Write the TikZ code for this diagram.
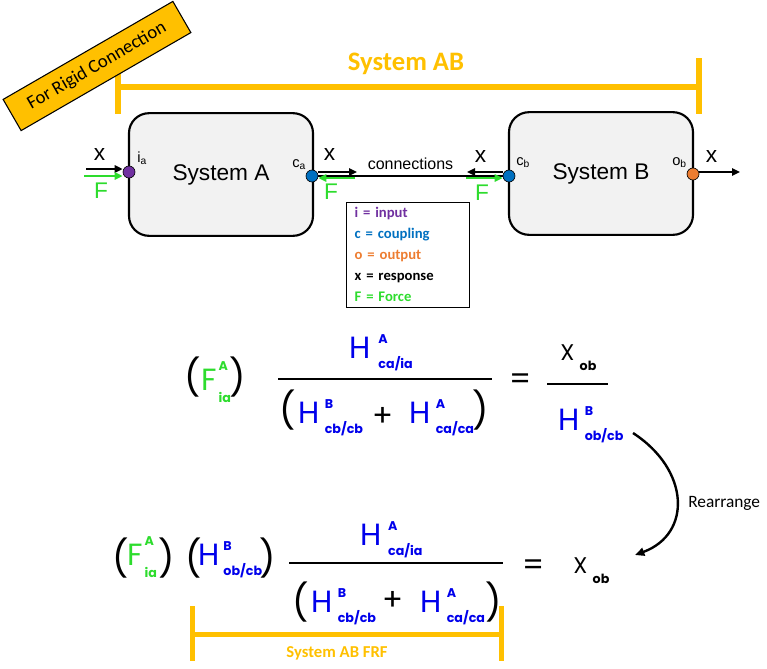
\documentclass[tikz,border=0pt]{standalone}
\usepackage{fontspec}
\setmainfont{Liberation Sans}
\newfontfamily\calib{Carlito}
\newfontfamily\geo{Poppins}
\usetikzlibrary{arrows.meta,positioning,calc}

\definecolor{frfyellow}{HTML}{FFC000}
\definecolor{inpurple}{HTML}{7030A0}
\definecolor{cpblue}{HTML}{0070C0}
\definecolor{outorange}{HTML}{ED7D31}
\definecolor{forcegreen}{RGB}{45,220,45}
\definecolor{eqblue}{RGB}{0,0,235}
\definecolor{boxgray}{HTML}{F2F2F2}

\newcommand{\supsub}{\geo\bfseries\fontsize{9.5}{9.5}\selectfont}
\newcommand{\frfterm}[4][4pt]{#2\hspace{#1}\rlap{\raisebox{11pt}{\supsub #3}}\raisebox{-7.5pt}{\supsub #4}}

\begin{document}
\begin{tikzpicture}[x=0.75pt,y=-0.75pt,
	system/.style={rectangle,rounded corners=15pt,draw,line width=1.6pt,fill=boxgray,
		minimum width=138pt,minimum height=92pt,font=\fontsize{17}{17}\selectfont},
	port/.style={circle,draw,line width=0.5pt,inner sep=0pt,minimum size=9pt},
	portlabel/.style={inner sep=0pt,anchor=base west,font=\fontsize{11}{11}\selectfont},
	xlabel/.style={inner sep=0pt,anchor=base,font=\fontsize{17}{17}\selectfont},
	flabel/.style={xlabel,text=forcegreen},
	resp/.style={-{Triangle[length=6pt,width=5.5pt]},line width=1.8pt},
	force/.style={resp,forcegreen},
	conn/.style={line width=1.5pt},
	frfbar/.style={frfyellow,line width=4.5pt},
	eqterm/.style={inner sep=0pt,anchor=base west,font=\geo\fontsize{23}{23}\selectfont},
	paren/.style={inner sep=0pt,font=\geo\fontsize{27}{27}\selectfont},
	fracbar/.style={line width=1.6pt},
	rearr/.style={-{Triangle[length=7pt,width=6pt]},line width=1.8pt}
	]
\useasboundingbox (0,0) rectangle (767,668);

% system AB bracket and rigid connection tag
\draw[frfbar] (118,58) -- (118,114) (118,87) -- (699,87) (699,58) -- (699,114);
\node[text=frfyellow,font=\calib\bfseries\fontsize{20}{20}\selectfont] (sab) at (406,64) {System AB};
\node[draw,line width=0.8pt,fill=frfyellow,rotate=30,minimum width=147pt,minimum height=27pt,
	inner sep=0pt,font=\calib\fontsize{14}{14}\selectfont] (rigid) at (97,66) {For Rigid Connection};

% systems
\node[system] (sysA) at (221,174.5) {System A};
\node[system] (sysB) at (601,173.5) {System B};

\node[port,fill=inpurple] (ia) at (129,172) {};
\node[port,fill=cpblue] (ca) at (312,176) {};
\node[port,fill=cpblue] (cb) at (509,176) {};
\node[port,fill=outorange] (ob) at (693,174) {};

\node[portlabel] (lia) at (137,162) {i\textsubscript{a}};
\node[portlabel] (lca) at (292,167) {c\textsubscript{a}};
\node[portlabel] (lcb) at (516,165) {c\textsubscript{b}};
\node[portlabel] (lob) at (672,165) {o\textsubscript{b}};

% arrows at the ports
\coordinate (xin) at (86,169);
\coordinate (fin) at (84,176);
\coordinate (xca) at (357,172);
\coordinate (fca) at (355,178);
\coordinate (xcb) at (467,172);
\coordinate (fcb) at (466,178);
\coordinate (xout) at (740,172);

\draw[conn] (ca.east) -- node[above=1pt,font=\fontsize{12}{12}\selectfont] (connlbl) {connections} (cb.west);
\draw[resp] (xin) -- (xin -| ia.west);
\draw[force] (fin) -- (fin -| ia.west);
\draw[resp] (xca -| ca.east) -- (xca);
\draw[force] (fca) -- (fca -| ca.east);
\draw[resp] (xcb -| cb.west) -- (xcb);
\draw[force] (fcb) -- (fcb -| cb.west);
\draw[resp] (xout -| ob.east) -- (xout);

\node[xlabel] (xa1) at (99.5,160) {x};
\node[xlabel] (xa2) at (329.5,160) {x};
\node[xlabel] (xb1) at (480.5,162) {x};
\node[xlabel] (xb2) at (711.5,162) {x};
\node[flabel] (fa1) at (101,198) {F};
\node[flabel] (fa2) at (331,199) {F};
\node[flabel] (fb1) at (482,200) {F};

% legend
\node[draw,line width=0.75pt,minimum width=91.5pt,minimum height=78.75pt,text width=80pt,
	inner xsep=6pt,align=left,font=\calib\bfseries\fontsize{11}{15.75}\selectfont] (legend) at (408,254.5)
	{\textcolor{inpurple}{i = input}\\ \textcolor{cpblue}{c = coupling}\\ \textcolor{outorange}{o = output}\\ x = response\\ \textcolor{forcegreen}{F = Force}};

% first equation
\node[paren] (e1lp) at (193,377) {(};
\node[eqterm,text=forcegreen] (e1F) at (201,390) {\frfterm[1.5pt]{F}{\raisebox{4pt}{A}}{\raisebox{-1.5pt}{ia}}};
\node[paren] (e1rp) at (238,377) {)};
\node[eqterm,text=eqblue] (e1num) at (349,358) {\frfterm[6pt]{H}{A}{ca/ia}};
\draw[fracbar] (278,379) -- (492,379);
\node[paren] (e1dlp) at (288,410) {(};
\node[eqterm,text=eqblue] (e1d1) at (298,423) {\frfterm{H}{B}{cb/cb}};
\node[paren,font=\geo\fontsize{23}{23}\selectfont] (e1plus) at (383,417) {+};
\node[eqterm,text=eqblue] (e1d2) at (409,423) {\frfterm{H}{A}{ca/ca}};
\node[paren] (e1drp) at (481,410) {)};
\node[paren,font=\geo\fontsize{23}{23}\selectfont] (e1eq) at (521,382) {=};
\node[eqterm,font=\geo\fontsize{17}{17}\selectfont] (e1x) at (560,360) {\frfterm{X}{}{ob}};
\draw[fracbar] (547,384) -- (608,384);
\node[eqterm,text=eqblue] (e1den) at (558,430) {\frfterm{H}{B}{ob/cb}};

% rearrange
\coordinate (rstart) at (633,433);
\coordinate (rend) at (635,555);
\draw[rearr] (rstart) .. controls +(57,37) and +(57,-21) .. (rend);
\node[anchor=west,inner sep=0pt,font=\calib\fontsize{13}{13}\selectfont] (rlbl) at (688,503) {Rearrange};

% second equation
\node[paren] (e2lp1) at (121,558) {(};
\node[eqterm,text=forcegreen] (e2F) at (127,565) {\frfterm[1.5pt]{F}{\raisebox{4pt}{A}}{\raisebox{-1.5pt}{ia}}};
\node[paren] (e2rp1) at (167,558) {)};
\node[paren] (e2lp2) at (194,558) {(};
\node[eqterm,text=eqblue] (e2HB) at (198,565) {\frfterm[3pt]{H}{B}{ob/cb}};
\node[paren] (e2rp2) at (268,558) {)};
\node[eqterm,text=eqblue] (e2num) at (360,545) {\frfterm[5pt]{H}{A}{ca/ia}};
\draw[fracbar] (289,563) -- (503,563);
\node[paren] (e2dlp) at (301,602) {(};
\node[eqterm,text=eqblue] (e2d1) at (311,612) {\frfterm{H}{B}{cb/cb}};
\node[paren,font=\geo\fontsize{23}{23}\selectfont] (e2plus) at (393,601) {+};
\node[eqterm,text=eqblue] (e2d2) at (420,612) {\frfterm{H}{A}{ca/ca}};
\node[paren] (e2drp) at (494,602) {)};
\node[paren,font=\geo\fontsize{23}{23}\selectfont] (e2eq) at (534,568) {=};
\node[eqterm,font=\geo\fontsize{17}{17}\selectfont] (e2x) at (573,573) {\frfterm{X}{}{ob}};

% system AB FRF bracket
\draw[frfbar,line width=3.75pt] (192,606) -- (192,661) (192,634) -- (501,634) (501,606) -- (501,661);
\node[text=frfyellow,font=\calib\bfseries\fontsize{12.5}{12.5}\selectfont] (sabfrf) at (337,653) {System AB FRF};
\end{tikzpicture}
\end{document}
